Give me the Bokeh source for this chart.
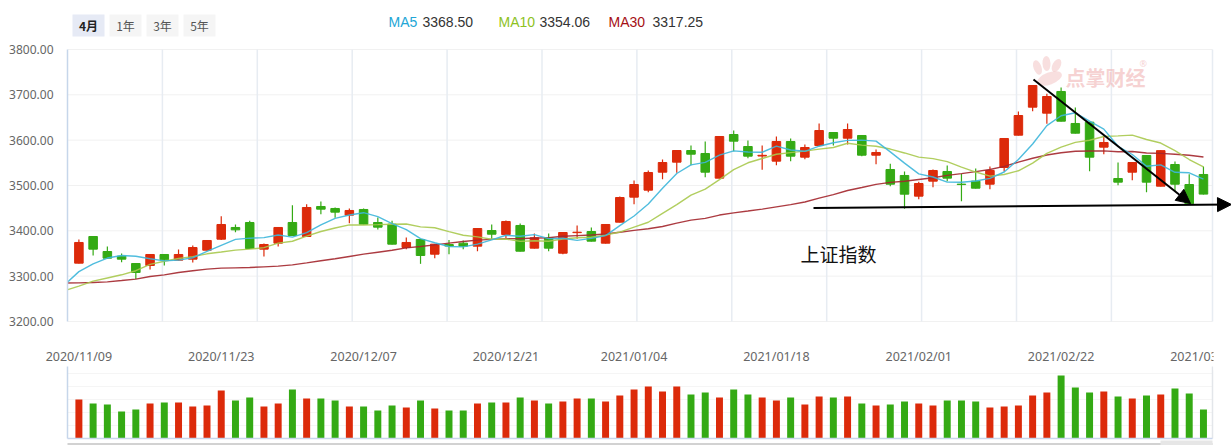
from bokeh.plotting import figure
from bokeh.models import Range1d, Arrow, NormalHead
from bokeh.core.properties import value
from bokeh.embed import file_html
from bokeh.resources import INLINE

# ---------------- data ----------------
opens = [3328.7, 3387.5, 3354.4, 3344.1, 3327.9, 3323.5, 3347.8, 3335.3, 3337.5, 3357.3,
         3381.6, 3407.4, 3418.4, 3359.6, 3372.8, 3418.4, 3387.5, 3453.7, 3449.3, 3434.6,
         3447.1, 3418.4, 3414.7, 3363.2, 3380.9, 3348.5, 3369.8, 3372.8, 3366.2, 3400.7,
         3391.9, 3411.8, 3361.8, 3384.6, 3350.7, 3396.0, 3398.5, 3372.8, 3419.1, 3474.3,
         3489.7, 3529.4, 3551.5, 3577.2, 3570.6, 3516.2, 3612.5, 3586.0, 3565.0, 3553.7,
         3597.1, 3562.5, 3588.2, 3616.9, 3604.4, 3610.3, 3566.9, 3535.3, 3522.1, 3476.5,
         3509.6, 3530.9, 3503.0, 3509.6, 3502.9, 3539.7, 3611.0, 3720.6, 3659.6, 3707.4,
         3615.4, 3639.7, 3594.9, 3515.4, 3529.4, 3566.2, 3498.5, 3546.3, 3459.6, 3524.3]
highs = [3380.9, 3388.0, 3365.4, 3350.0, 3328.5, 3348.3, 3348.3, 3358.8, 3367.6, 3380.0,
         3432.4, 3414.0, 3422.0, 3372.0, 3407.9, 3456.6, 3458.8, 3464.7, 3451.5, 3449.3,
         3449.3, 3429.4, 3422.0, 3385.3, 3381.4, 3371.1, 3380.0, 3378.7, 3405.6, 3414.0,
         3422.8, 3416.0, 3394.1, 3394.0, 3396.8, 3411.8, 3407.4, 3414.5, 3475.7, 3511.0,
         3533.1, 3557.4, 3577.7, 3588.2, 3597.1, 3608.6, 3621.3, 3599.3, 3588.2, 3608.0,
         3603.7, 3590.4, 3636.8, 3617.4, 3636.8, 3610.8, 3579.4, 3547.8, 3530.9, 3508.1,
         3535.3, 3544.1, 3525.8, 3537.5, 3541.9, 3604.2, 3663.2, 3721.1, 3702.2, 3716.2,
         3672.1, 3640.2, 3608.1, 3550.7, 3551.2, 3566.7, 3577.7, 3552.9, 3525.0, 3541.9]
lows = [3328.0, 3345.6, 3339.0, 3330.9, 3294.0, 3314.7, 3323.5, 3334.8, 3330.1, 3356.8,
        3380.0, 3397.0, 3360.5, 3343.4, 3365.4, 3389.2, 3387.0, 3436.8, 3428.7, 3416.9,
        3414.2, 3403.0, 3370.1, 3359.6, 3327.2, 3339.7, 3348.5, 3359.6, 3355.1, 3382.4,
        3383.1, 3354.6, 3361.3, 3355.0, 3348.5, 3382.4, 3376.7, 3372.3, 3418.6, 3458.8,
        3485.3, 3514.0, 3528.0, 3544.8, 3518.4, 3515.7, 3575.7, 3560.3, 3534.6, 3544.8,
        3553.7, 3558.0, 3587.7, 3588.2, 3590.4, 3564.7, 3547.0, 3498.5, 3448.5, 3469.8,
        3496.3, 3509.6, 3465.4, 3493.6, 3491.9, 3530.9, 3610.5, 3664.0, 3636.0, 3641.4,
        3614.9, 3531.6, 3569.1, 3500.7, 3511.8, 3485.3, 3498.0, 3487.5, 3459.1, 3480.4]
closes = [3374.3, 3359.6, 3339.7, 3337.5, 3308.1, 3347.8, 3336.0, 3347.8, 3363.2, 3378.7,
          3414.0, 3402.2, 3361.0, 3369.8, 3407.4, 3389.7, 3451.5, 3447.8, 3441.2, 3444.9,
          3414.7, 3408.1, 3370.6, 3374.3, 3345.6, 3370.6, 3366.5, 3366.2, 3405.1, 3392.6,
          3420.6, 3355.1, 3384.6, 3361.8, 3396.3, 3397.0, 3377.2, 3414.0, 3473.5, 3502.2,
          3528.7, 3550.7, 3577.2, 3569.1, 3529.4, 3608.1, 3597.8, 3564.7, 3566.6, 3597.1,
          3564.7, 3583.8, 3621.3, 3604.4, 3623.5, 3566.9, 3572.8, 3502.9, 3480.9, 3504.4,
          3533.1, 3516.2, 3502.0, 3494.1, 3533.1, 3603.7, 3654.4, 3672.8, 3696.3, 3641.9,
          3636.8, 3562.5, 3584.6, 3507.4, 3550.7, 3507.4, 3576.9, 3502.9, 3502.2, 3481.0]
volumes = [2925, 2625, 2550, 2025, 2175, 2625, 2700, 2700, 2400, 2475,
           3600, 2850, 3075, 2400, 2625, 3675, 3000, 3000, 2850, 2400,
           2400, 2100, 2475, 2325, 2850, 2250, 2100, 2100, 2625, 2700,
           2700, 3075, 2850, 2625, 2775, 3000, 3000, 2775, 3225, 3675,
           3900, 3525, 3900, 3300, 3450, 3075, 3675, 3300, 3075, 2850,
           3075, 2550, 3150, 3075, 3150, 2625, 2475, 2550, 2775, 2625,
           2475, 2850, 2850, 2775, 2325, 2400, 2475, 3225, 3450, 4725,
           3825, 3450, 3525, 3150, 3000, 3225, 3300, 3750, 3375, 2175]
# moving averages, first value belongs to the session before the first candle
ma5 = [3281.0, 3310.0, 3327.0, 3340.0, 3345.5, 3343.8, 3338.5, 3333.8, 3335.4, 3340.6,
       3354.7, 3367.9, 3381.2, 3383.8, 3385.1, 3390.9, 3386.0, 3395.9, 3413.2, 3427.5,
       3435.0, 3440.0, 3431.3, 3415.9, 3402.5, 3382.7, 3373.8, 3365.5, 3364.6, 3370.8,
       3380.2, 3390.2, 3387.9, 3391.6, 3382.9, 3383.7, 3379.0, 3383.4, 3389.3, 3411.6,
       3432.8, 3459.1, 3493.8, 3526.5, 3545.6, 3551.0, 3566.9, 3576.3, 3573.8, 3573.3,
       3586.9, 3578.2, 3575.4, 3586.7, 3594.3, 3599.5, 3600.0, 3597.8, 3574.1, 3549.4,
       3525.6, 3518.8, 3507.5, 3507.3, 3510.0, 3515.7, 3529.8, 3557.5, 3591.6, 3632.1,
       3653.8, 3660.4, 3642.1, 3624.4, 3586.6, 3568.4, 3542.5, 3545.4, 3529.1, 3528.0,
       3514.1]
ma10 = [3268.0, 3278.0, 3289.0, 3296.0, 3303.0, 3312.0, 3326.0, 3333.0, 3339.0, 3343.0,
        3349.3, 3353.2, 3357.5, 3359.6, 3362.9, 3372.8, 3377.0, 3388.5, 3398.5, 3406.3,
        3413.0, 3413.0, 3413.6, 3414.6, 3415.0, 3408.8, 3406.9, 3398.4, 3390.3, 3386.7,
        3381.4, 3382.0, 3376.7, 3378.1, 3376.9, 3381.9, 3384.6, 3385.7, 3390.4, 3397.3,
        3408.2, 3419.0, 3438.6, 3457.9, 3478.6, 3491.9, 3513.0, 3535.1, 3550.1, 3559.5,
        3568.9, 3572.5, 3575.9, 3580.3, 3583.8, 3593.2, 3589.1, 3586.6, 3580.4, 3571.8,
        3562.6, 3559.4, 3552.6, 3540.7, 3529.7, 3520.6, 3524.3, 3532.5, 3549.5, 3571.0,
        3584.8, 3595.1, 3599.8, 3608.0, 3609.4, 3611.1, 3601.5, 3593.7, 3576.8, 3557.3,
        3541.2]
ma30 = [3285.0, 3285.3, 3286.0, 3287.5, 3290.4, 3293.4, 3299.3, 3302.9, 3308.1, 3311.8,
        3315.5, 3317.7, 3318.4, 3319.1, 3320.6, 3322.1, 3325.0, 3329.4, 3333.9, 3338.3,
        3343.4, 3348.5, 3352.9, 3357.3, 3362.5, 3365.4, 3369.1, 3372.8, 3376.5, 3379.5,
        3381.2, 3382.8, 3382.6, 3384.1, 3384.9, 3387.9, 3389.5, 3390.9, 3393.1, 3396.8,
        3400.9, 3404.7, 3409.6, 3416.9, 3423.5, 3427.6, 3434.8, 3439.7, 3443.6, 3447.8,
        3452.9, 3457.9, 3463.7, 3472.1, 3479.8, 3489.0, 3495.6, 3502.4, 3507.0, 3509.5,
        3513.2, 3517.0, 3522.4, 3526.3, 3530.7, 3535.2, 3542.1, 3551.4, 3560.0, 3567.4,
        3572.1, 3575.7, 3576.1, 3576.3, 3574.3, 3575.0, 3571.6, 3570.9, 3568.9, 3566.7,
        3562.9]
date_tick_index = [0, 10, 20, 30, 39, 49, 59, 69, 79]
date_tick_labels = ["2020/11/09", "2020/11/23", "2020/12/07", "2020/12/21", "2021/01/04",
                    "2021/01/18", "2021/02/01", "2021/02/22", "2021/03/08"]
price_ticks = [3200, 3300, 3400, 3500, 3600, 3700, 3800]
period_buttons = ["4月", "1年", "3年", "5年"]
legend_names = ["MA5", "MA10", "MA30"]
legend_values = ["3368.50", "3354.06", "3317.25"]
index_name = "上证指数"
watermark = "点掌财经"

# ---------------- layout constants ----------------
W, H = 1231, 445
AXIS_PX = 67            # pixel column of the price axis line
PXU = 14.235            # pixels per session
X0 = -0.8               # session value on the price axis line
PPU = 272.0 / 600.0     # pixels per index point
VPU = 75.0              # volume units per pixel
VOL_BASE_PX = 438

def X(px):
    return X0 + (px - AXIS_PX) / PXU

def Y(py):
    return 3800 - (py - 49) / PPU

def V(py):
    return (VOL_BASE_PX - py) * VPU

RED, GREEN = "#dc2a0a", "#34aa14"
C5, C10, C30 = "#3db6da", "#a9c94e", "#a3262c"
FONT = "Noto Sans"
CJK = "Noto Sans CJK SC"

n = len(closes)
idx = list(range(n))
colors = []
for i in range(n):
    ref = closes[i - 1] if i > 0 else opens[0]
    colors.append(RED if closes[i] >= ref else GREEN)
body_top = [max(o, c) for o, c in zip(opens, closes)]
body_bot = [min(o, c) for o, c in zip(opens, closes)]
RIGHT_EDGE = X(1212)

p = figure(width=W, height=H, output_backend="svg", toolbar_location=None,
           x_range=Range1d(X(0), X(W)),
           y_range=Range1d(Y(H), Y(0)),
           x_axis_location=None, y_axis_location=None, min_border=0)
p.extra_y_ranges = {"vol": Range1d(V(H), V(0))}
p.outline_line_color = None
p.grid.visible = False
p.background_fill_color = "white"
p.border_fill_color = "white"

# ---------------- grids / frame lines ----------------
p.segment(x0=X0, y0=price_ticks, x1=RIGHT_EDGE, y1=price_ticks,
          line_color="#f1f1f1", line_width=1)
vx = [X0 + k * 80.0 / 12.0 for k in range(1, 12)] + [RIGHT_EDGE]
p.segment(x0=vx, y0=3200, x1=vx, y1=3800, line_color="#e7ecf2", line_width=1.5)

vgrid = [V(373), V(386), V(399), V(412), V(425)]
p.segment(x0=X0, y0=vgrid, x1=RIGHT_EDGE, y1=vgrid, line_color="#f5f5f5",
          line_width=1, y_range_name="vol")
p.segment(x0=X0, y0=0, x1=X0, y1=V(366), line_color="#c6d6ea", line_width=1.5,
          y_range_name="vol")
p.segment(x0=RIGHT_EDGE, y0=0, x1=RIGHT_EDGE, y1=V(366), line_color="#e3e6ea",
          line_width=1.5, y_range_name="vol")
p.segment(x0=X0, y0=V(443.5), x1=RIGHT_EDGE, y1=V(443.5), line_color="#d2d2d2",
          line_width=2, y_range_name="vol")
p.quad(left=X(1160), right=RIGHT_EDGE, top=V(440), bottom=V(446),
       fill_color="#e6e6e6", line_color=None, y_range_name="vol")

# ---------------- volume ----------------
p.vbar(x=idx, width=0.49, top=volumes, bottom=0, fill_color=colors,
       line_color=None, y_range_name="vol")
p.segment(x0=X0, y0=0, x1=RIGHT_EDGE, y1=0, line_color="#c9d6ec", line_width=1.5,
          y_range_name="vol")

# ---------------- candles ----------------
p.segment(x0=idx, y0=highs, x1=idx, y1=lows, line_color=colors, line_width=1.2)
p.vbar(x=idx, width=0.6, top=body_top, bottom=body_bot, fill_color=colors,
       line_color=colors, line_width=1)

# ---------------- moving averages ----------------
ma_x = list(range(-1, n))
p.line(ma_x, ma30, line_color=C30, line_width=1.4, line_alpha=0.9)
p.line(ma_x, ma10, line_color=C10, line_width=1.4, line_alpha=0.9)
p.line(ma_x, ma5, line_color=C5, line_width=1.4, line_alpha=0.9)

# the price panel starts at the axis line: hide what lies left of it
p.quad(left=X(0), right=X0, top=Y(40), bottom=Y(330), fill_color="white", line_color=None)
p.segment(x0=X0, y0=3200, x1=X0, y1=3800, line_color="#c6d6ea", line_width=1.5)

# ---------------- price axis labels ----------------
p.text(x=X(53), y=price_ticks, text=[f"{t:.2f}" for t in price_ticks],
       text_font=value(FONT), text_font_size="12px", text_color="#666666",
       text_align="right", text_baseline="middle")

# ---------------- date labels ----------------
p.text(x=date_tick_index, y=Y(356), text=date_tick_labels, text_font=value(FONT),
       text_font_size="12.5px", text_color="#666666", text_align="center",
       text_baseline="middle")
# the chart clips the last date label at its right border
p.quad(left=X(1213), right=X(1245), top=Y(343), bottom=Y(370),
       fill_color="white", line_color=None)

# ---------------- top controls ----------------
bl = [72, 109, 146, 183]
p.quad(left=[X(v) for v in bl], right=[X(v + 32) for v in bl], top=Y(14), bottom=Y(36),
       fill_color=["#e6eaf5", "#f5f5f5", "#f5f5f5", "#f5f5f5"], line_color=None)
p.text(x=[X(bl[0] + 16)], y=Y(25), text=period_buttons[:1], text_font=value(CJK),
       text_font_size="12px", text_font_style="bold", text_color="#222222",
       text_align="center", text_baseline="middle")
p.text(x=[X(v + 16) for v in bl[1:]], y=Y(25), text=period_buttons[1:],
       text_font=value(CJK), text_font_size="12px", text_color="#555555",
       text_align="center", text_baseline="middle")

p.text(x=[X(388), X(498), X(608)], y=Y(21.5), text=legend_names,
       text_color=["#22a6d6", "#8dc21f", "#a50f14"], text_font=value("Liberation Sans"),
       text_font_size="14px", text_align="left", text_baseline="middle")
p.text(x=[X(422), X(539), X(652)], y=Y(21.5), text=legend_values,
       text_color="#333333", text_font=value("Liberation Sans"),
       text_font_size="14px", text_align="left", text_baseline="middle")

# ---------------- watermark ----------------
p.ellipse(x=[X(1037), X(1046), X(1056), X(1049)], y=[Y(67), Y(63), Y(65), Y(78)],
          width=[8, 8, 8, 26], height=[15, 15, 14, 12], angle=[0.35, 0.05, -0.5, 0.35],
          width_units="screen", height_units="screen",
          fill_color="#f3c4c4", fill_alpha=0.55, line_color=None)
p.text(x=[X(1065)], y=Y(77), text=[watermark], text_font=value(CJK),
       text_font_size="20px", text_font_style="bold", text_color="#f0b4b4",
       text_alpha=0.6, text_align="left", text_baseline="middle")
p.text(x=[X(1139)], y=Y(63), text=["®"], text_font=value(FONT), text_font_size="9px",
       text_color="#f0b4b4", text_alpha=0.6, text_align="left", text_baseline="middle")

# ---------------- annotations ----------------
p.text(x=[X(800)], y=Y(253), text=[index_name], text_font=value(CJK),
       text_font_size="19px", text_color="#111111", text_align="left",
       text_baseline="middle")
diag_arrow = dict(x_start=X(1033), y_start=Y(79), x_end=X(1190), y_end=Y(203))
flat_arrow = dict(x_start=X(813), y_start=Y(207.5), x_end=X(1231), y_end=Y(204))
for a in (diag_arrow, flat_arrow):
    p.add_layout(Arrow(end=NormalHead(size=14, fill_color="black", line_color="black"),
                       line_color="black", line_width=2, **a))

open("out.html", "w").write(file_html(p, INLINE))
